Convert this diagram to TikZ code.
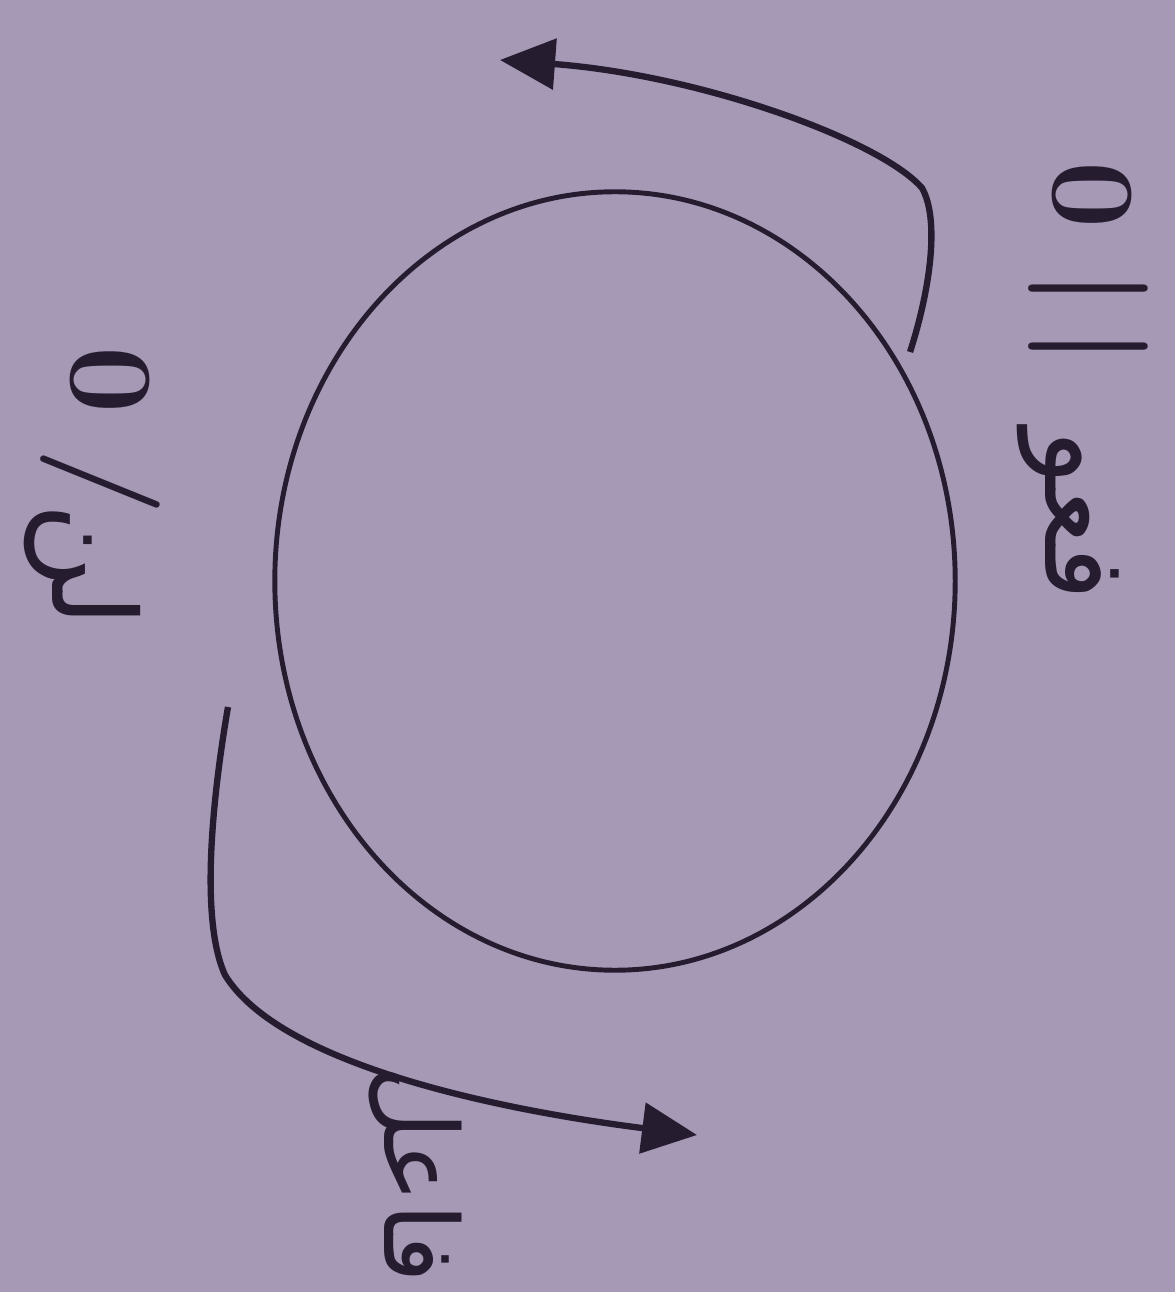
\documentclass[tikz,border=0pt]{standalone}
\usepackage{fontspec}
\newfontfamily\arabicfont[Script=Arabic]{DejaVu Sans}
\TeXXeTstate=1
\usetikzlibrary{shapes.geometric, arrows.meta}
\definecolor{paper}{RGB}{166,153,181}
\definecolor{ink}{RGB}{38,28,48}
\begin{document}
\begin{tikzpicture}[
  x=0.01cm, y=-0.01cm,
  ring/.style={ellipse, draw=ink, line width=1.4pt,
    minimum width=6.8cm, minimum height=7.78cm},
  lbl/.style={text=ink, rotate=-90, inner sep=0pt,
    font=\fontsize{34}{36}\selectfont\bfseries},
  arlbl/.style={lbl, font=\fontsize{33}{36}\selectfont\arabicfont},
  arrow/.style={-{Triangle[length=5.5mm, width=5mm]}, draw=ink,
    line width=1.8pt},
]
\fill[paper] (0,0) rectangle (1175,1292);
\useasboundingbox (0,0) rectangle (1175,1292);

\node[ring] (ring) at (615,581) {};

% labels, written sideways
\node[lbl] (zeroa) at (1092,195) {0};
\node[lbl] (bars) at (1088,318) {|\,|};
\node[arlbl] (verb) at (1068,515) {\beginR فعو\endR};

\node[lbl] (zerob) at (110,380) {0};
\node[lbl] (slash) at (100,482) {/};
\node[arlbl] (neg) at (82,565) {\beginR لن\endR};

\node[arlbl, font=\fontsize{29}{32}\selectfont\arabicfont] (subj)
  at (415,1174) {\beginR فاعل\endR};

\coordinate (topstart) at (910,352);
\coordinate (topbend) at (922,188);
\coordinate (toptip) at (500,60);
\coordinate (botstart) at (228,707);
\coordinate (botbend) at (225,975);
\coordinate (bottip) at (697,1135);

\draw[arrow] (topstart) .. controls (930,290) and (940,220) .. (topbend)
  .. controls (880,140) and (700,75) .. (toptip);
\draw[arrow] (botstart) .. controls (212,800) and (200,920) .. (botbend)
  .. controls (280,1065) and (500,1110) .. (bottip);

\end{tikzpicture}
\end{document}
